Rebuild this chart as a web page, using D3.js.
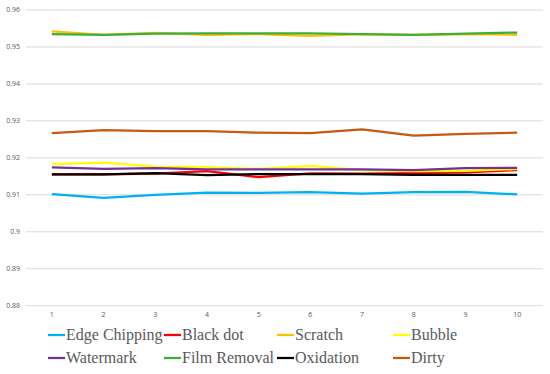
<!DOCTYPE html>
<html>
<head>
<meta charset="utf-8">
<script src="https://cdn.jsdelivr.net/npm/d3@7"></script>
<style>
  body { margin: 0; background: #fff; }
  svg { display: block; }
  .legend-text { font-family: "Liberation Serif", "DejaVu Serif", serif; font-size: 16px; fill: #595959; }
</style>
</head>
<body>
<svg width="550" height="374"></svg>
<script>
const categories = ["1", "2", "3", "4", "5", "6", "7", "8", "9", "10"];
const yTicks = [0.88, 0.89, 0.9, 0.91, 0.92, 0.93, 0.94, 0.95, 0.96];

const seriesNames = ["Edge Chipping", "Black dot", "Scratch", "Bubble", "Watermark", "Film Removal", "Oxidation", "Dirty"];
const seriesColors = ["#00B0F0", "#FF0000", "#FFC000", "#FFFF00", "#7030A0", "#3DAE3D", "#000000", "#C55A11"];

const edgeChipping = [0.9102, 0.9092, 0.9100, 0.9106, 0.9105, 0.9107, 0.9103, 0.9107, 0.9108, 0.9101];
const blackDot     = [0.9155, 0.9155, 0.9157, 0.9164, 0.9148, 0.9158, 0.9157, 0.9159, 0.9161, 0.9167];
const scratch      = [0.9542, 0.9533, 0.9538, 0.9533, 0.9535, 0.9530, 0.9535, 0.9533, 0.9535, 0.9533];
const bubble       = [0.9183, 0.9187, 0.9176, 0.9175, 0.9170, 0.9178, 0.9167, 0.9164, 0.9165, 0.9170];
const watermark    = [0.9174, 0.9170, 0.9172, 0.9169, 0.9169, 0.9169, 0.9169, 0.9167, 0.9172, 0.9173];
const filmRemoval  = [0.9535, 0.9533, 0.9536, 0.9537, 0.9537, 0.9537, 0.9535, 0.9533, 0.9536, 0.9539];
const oxidation    = [0.9155, 0.9155, 0.9159, 0.9153, 0.9156, 0.9156, 0.9156, 0.9154, 0.9154, 0.9154];
const dirty        = [0.9267, 0.9275, 0.9272, 0.9272, 0.9268, 0.9267, 0.9277, 0.9260, 0.9265, 0.9268];

const seriesValues = [edgeChipping, blackDot, scratch, bubble, watermark, filmRemoval, oxidation, dirty];

const svg = d3.select("svg");
const plotLeft = 26, plotRight = 543, plotTop = 10, plotBottom = 305.7;

const x = d3.scaleBand().domain(categories).range([plotLeft, plotRight]);
const y = d3.scaleLinear().domain([0.88, 0.96]).range([plotBottom, plotTop]);

// gridlines
svg.append("g")
    .selectAll("line")
    .data(yTicks)
    .join("line")
    .attr("x1", plotLeft)
    .attr("x2", plotRight)
    .attr("y1", d => y(d))
    .attr("y2", d => y(d))
    .style("stroke", "#D9D9D9")
    .style("stroke-width", 1);

// y labels
svg.append("g")
    .selectAll("text")
    .data(yTicks)
    .join("text")
    .attr("x", 20)
    .attr("y", d => y(d))
    .attr("dy", "0.35em")
    .attr("text-anchor", "end")
    .style("font-family", "'Open Sans', sans-serif")
    .style("font-size", "7px")
    .style("fill", "#595959")
    .text(d => String(+d.toFixed(2)));

// x labels
svg.append("g")
    .selectAll("text")
    .data(categories)
    .join("text")
    .attr("x", d => x(d) + x.bandwidth() / 2)
    .attr("y", 315)
    .attr("dy", "0.35em")
    .attr("text-anchor", "middle")
    .style("font-family", "'Open Sans', sans-serif")
    .style("font-size", "7px")
    .style("fill", "#595959")
    .text(d => d);

// lines
const line = d3.line()
    .x((d, i) => x(categories[i]) + x.bandwidth() / 2)
    .y(d => y(d));

svg.append("g")
    .selectAll("path")
    .data(seriesValues)
    .join("path")
    .attr("d", d => line(d))
    .style("fill", "none")
    .style("stroke", (d, i) => seriesColors[i])
    .style("stroke-width", 2.25)
    .style("stroke-linejoin", "round");

// legend
const legendCols = [48, 164, 277, 393];
const legendRows = [335, 358];
const legend = svg.append("g")
    .selectAll("g")
    .data(seriesNames)
    .join("g")
    .attr("transform", (d, i) => `translate(${legendCols[i % 4]},${legendRows[Math.floor(i / 4)]})`);

legend.append("line")
    .attr("x1", 0)
    .attr("x2", 17)
    .style("stroke", (d, i) => seriesColors[i])
    .style("stroke-width", 2.25);

legend.append("text")
    .attr("class", "legend-text")
    .attr("x", 18)
    .attr("dy", "0.32em")
    .text(d => d);
</script>
</body>
</html>
